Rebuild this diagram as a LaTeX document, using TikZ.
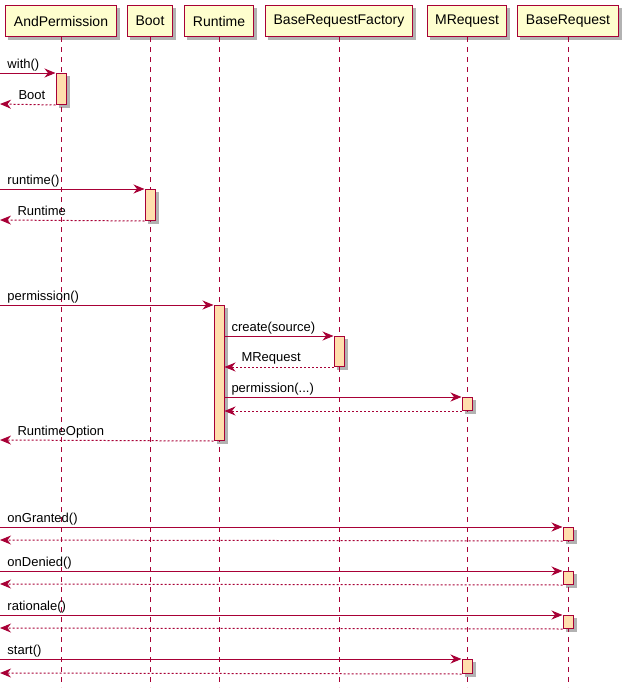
\documentclass[tikz,border=0pt]{standalone}
\usepackage{fontspec}
\setmainfont{Liberation Sans}
\usetikzlibrary{arrows.meta,backgrounds}
\definecolor{umlred}{HTML}{A80036}
\definecolor{umlbox}{HTML}{FEFECE}
\definecolor{umlact}{HTML}{FFDEAD}
\def\lifeend{687}

\begin{document}
\begin{tikzpicture}[x=1pt,y=-1pt,line width=1pt,draw=umlred]
    \tikzstyle{participant}=[draw=umlred,fill=umlbox,minimum height=31pt,inner xsep=8pt,inner ysep=0pt,
        font=\fontsize{14}{16}\selectfont]
    \tikzstyle{lifeline}=[draw=umlred,dash pattern=on 5pt off 5pt]
    \tikzstyle{activation}=[draw=umlred,fill=umlact,minimum width=10pt,inner sep=0pt,anchor=north]
    \tikzstyle{umlshadow}=[fill=black!30,draw=none]
    \tikzstyle{msg}=[draw=umlred,-{Stealth[length=11pt,width=9pt,inset=3.5pt]}]
    \tikzstyle{ret}=[msg,dash pattern=on 2pt off 2pt]
    \tikzstyle{lbl}=[anchor=base west,inner sep=0pt,font=\fontsize{13}{15}\selectfont]

    \useasboundingbox (0,0) rectangle (629,697);

    % Draw the participants
    \node[participant] (P-1) at (61,21) {AndPermission};
    \node[participant] (P-2) at (150,21) {Boot};
    \node[participant] (P-3) at (219,21) {Runtime};
    \node[participant] (P-4) at (339,21) {BaseRequestFactory};
    \node[participant] (P-5) at (467,21) {MRequest};
    \node[participant] (P-6) at (568,21) {BaseRequest};

    % Draw the lifelines
    \foreach \i/\x in {1/61,2/150,3/219,4/339,5/467,6/568}
        \coordinate (L-\i) at (\x,\lifeend);
    \foreach \i in {1,...,6}
        \draw[lifeline] (P-\i.south) -- (L-\i);

    % Draw the activation boxes
    \node[activation,minimum height=31pt] (A-1) at (61,73) {};
    \node[activation,minimum height=31pt] (A-2) at (150,189) {};
    \node[activation,minimum height=135pt] (A-3) at (219,305) {};
    \node[activation,minimum height=30pt] (A-4) at (339,336) {};
    \node[activation,minimum height=13pt] (A-5) at (467,397) {};
    \node[activation,minimum height=13pt] (A-6) at (568,527) {};
    \node[activation,minimum height=13pt] (A-7) at (568,571) {};
    \node[activation,minimum height=13pt] (A-8) at (568,615) {};
    \node[activation,minimum height=14pt] (A-9) at (467,659) {};

    % Shadows behind the boxes
    \begin{scope}[on background layer]
        \foreach \n in {P-1,P-2,P-3,P-4,P-5,P-6,A-1,A-2,A-3,A-4,A-5,A-6,A-7,A-8,A-9}
            \fill[umlshadow] ([shift={(3,3)}]\n.north west) rectangle ([shift={(3,3)}]\n.south east);
    \end{scope}

    % Free ends on the left border
    \foreach \name/\y in {with/73,boot/104,runtime/189,rt/220,perm/305,ropt/440,
        granted/527,grantedr/540,denied/571,deniedr/584,rat/615,ratr/628,start/659,startr/673}
        \coordinate (E-\name) at (0,\y);

    % Calls into AndPermission and Boot
    \draw[msg] (E-with) -- (A-1.north west);
    \node[lbl] (t-with) at (7,68) {with()};
    \draw[ret] (A-1.south west) -- (E-boot);
    \node[lbl] (t-boot) at (18,99) {Boot};

    \draw[msg] (E-runtime) -- (A-2.north west);
    \node[lbl] (t-runtime) at (7,184) {runtime()};
    \draw[ret] (A-2.south west) -- (E-rt);
    \node[lbl] (t-rt) at (17,215) {Runtime};

    % Runtime asks the factory and the request
    \draw[msg] (E-perm) -- (A-3.north west);
    \node[lbl] (t-perm) at (7,300) {permission()};
    \draw[msg] (A-3.east |- A-4.north west) -- (A-4.north west);
    \node[lbl] (t-create) at (231,331) {create(source)};
    \draw[ret] (A-4.south west) -- (A-3.east |- A-4.south west);
    \node[lbl] (t-mreq) at (241,361) {MRequest};
    \draw[msg] (A-3.east |- A-5.north west) -- (A-5.north west);
    \node[lbl] (t-permdots) at (231,392) {permission(...)};
    \draw[ret] (A-5.south west) -- (A-3.east |- A-5.south west);
    \draw[ret] (A-3.south west) -- (E-ropt);
    \node[lbl] (t-ropt) at (17,435) {RuntimeOption};

    % Calls on the option
    \draw[msg] (E-granted) -- (A-6.north west);
    \node[lbl] (t-granted) at (7,522) {onGranted()};
    \draw[ret] (A-6.south west) -- (E-grantedr);

    \draw[msg] (E-denied) -- (A-7.north west);
    \node[lbl] (t-denied) at (7,566) {onDenied()};
    \draw[ret] (A-7.south west) -- (E-deniedr);

    \draw[msg] (E-rat) -- (A-8.north west);
    \node[lbl] (t-rat) at (7,610) {rationale()};
    \draw[ret] (A-8.south west) -- (E-ratr);

    \draw[msg] (E-start) -- (A-9.north west);
    \node[lbl] (t-start) at (7,654) {start()};
    \draw[ret] (A-9.south west) -- (E-startr);
\end{tikzpicture}
\end{document}
